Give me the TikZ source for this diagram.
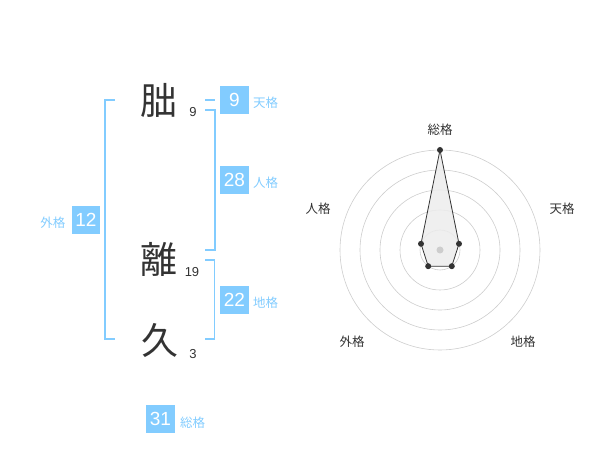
\documentclass[tikz,border=0pt]{standalone}
\usepackage{fontspec}
\setmainfont{Liberation Sans}
\newfontfamily\cjk{Noto Sans CJK JP}
\definecolor{kblue}{RGB}{130,204,255}
\definecolor{kdark}{RGB}{51,51,51}
\definecolor{kring}{RGB}{205,205,205}
\definecolor{kfill}{RGB}{236,236,236}
\begin{document}
\begin{tikzpicture}[x=1pt,y=-1pt,
  kanji/.style={inner sep=0pt,text=kdark,font=\cjk\fontsize{37}{37}\selectfont},
  strokes/.style={inner sep=0pt,text=kdark,font=\fontsize{13}{13}\selectfont},
  numbox/.style={fill=kblue,text=white,minimum size=28.5pt,inner sep=0pt,font=\fontsize{19}{19}\selectfont},
  lbl/.style={inner sep=0pt,text=kblue,font=\cjk\fontsize{12.5}{12.5}\selectfont},
  br/.style={draw=kblue,line width=1.3pt},
  ring/.style={draw=kring,line width=0.6pt},
  rlbl/.style={inner sep=0pt,text=kdark,font=\cjk\fontsize{12.5}{12.5}\selectfont},
  vdot/.style={circle,fill=kdark,minimum size=6pt,inner sep=0pt}]
\useasboundingbox (0,0) rectangle (600,470);
% characters
\node[kanji] (c1) at (159,100) {朏};
\node[kanji] (c2) at (159,259) {離};
\node[kanji] (c3) at (160,340) {久};
\node[strokes] (s1) at (193,112) {9};
\node[strokes] (s2) at (192,272) {19};
\node[strokes] (s3) at (193,354) {3};
% brackets
\coordinate (g1) at (115,100); \coordinate (g2) at (105,100);
\coordinate (g3) at (105,339); \coordinate (g4) at (115,339);
\draw[br] (g1) -- (g2) -- (g3) -- (g4);
\coordinate (t1) at (205,100); \coordinate (t2) at (215,100);
\draw[br] (t1) -- (t2);
\coordinate (j1) at (205,110); \coordinate (j2) at (215,110);
\coordinate (j3) at (215,250); \coordinate (j4) at (205,250);
\draw[br] (j1) -- (j2) -- (j3) -- (j4);
\coordinate (k1) at (205,260); \coordinate (k2) at (214.5,260);
\coordinate (k3) at (214.5,339); \coordinate (k4) at (205,339);
\draw[br] (k1) -- (k2) -- (k3) -- (k4);
% boxes
\node[numbox] (ten) at (234.5,100) {9};
\node[numbox] (jin) at (234.5,180) {28};
\node[numbox] (chi) at (234.5,300) {22};
\node[numbox] (gai) at (86,220) {12};
\node[numbox] (sou) at (160.5,419) {31};
\node[lbl,anchor=west] (tenl) at (253,102.5) {天格};
\node[lbl,anchor=west] (jinl) at (253,183) {人格};
\node[lbl,anchor=west] (chil) at (253,303) {地格};
\node[lbl,anchor=east] (gail) at (65.5,223) {外格};
\node[lbl,anchor=west] (soul) at (180,422.5) {総格};
% radar
\coordinate (o) at (440,250);
\foreach \r in {20,40,60,80,100} \draw[ring] (o) circle[radius=\r];
\coordinate (p1) at (440,150);
\coordinate (p2) at (459.0,243.8);
\coordinate (p3) at (451.8,266.2);
\coordinate (p4) at (428.2,266.2);
\coordinate (p5) at (421.0,243.8);
\draw[kdark,fill=kfill,fill opacity=0.85,line width=0.8pt] (p1) -- (p2) -- (p3) -- (p4) -- (p5) -- cycle;
\node[circle,fill=kring,minimum size=7pt,inner sep=0pt] (oc) at (o) {};
\foreach \p in {p1,p2,p3,p4,p5} \node[vdot] at (\p) {};
\node[rlbl] (rs) at (440,130) {総格};
\node[rlbl] (rt) at (562,208.5) {天格};
\node[rlbl] (rj) at (318,208.5) {人格};
\node[rlbl] (rg) at (352,342) {外格};
\node[rlbl] (rc) at (523,342) {地格};
\end{tikzpicture}
\end{document}
